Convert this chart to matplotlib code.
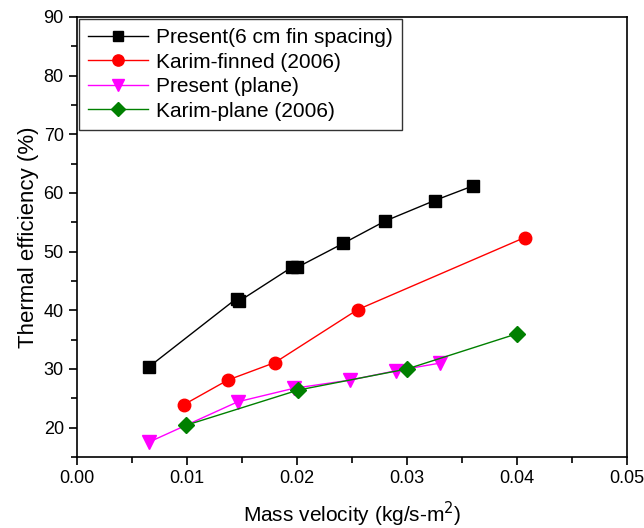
import matplotlib.pyplot as plt
from matplotlib.ticker import MultipleLocator

plt.rcParams['font.family'] = ['Liberation Sans', 'DejaVu Sans']

# Present (6 cm fin spacing)
fin_x = [0.0065, 0.0145, 0.0147, 0.0195, 0.0200, 0.0242, 0.0280, 0.0325, 0.0360]
fin_y = [30.3, 42.0, 41.5, 47.3, 47.3, 51.4, 55.2, 58.7, 61.2]

# Karim-finned (2006)
kf_x = [0.0097, 0.0137, 0.0180, 0.0255, 0.0407]
kf_y = [23.9, 28.1, 31.1, 40.1, 52.4]

# Present (plane)
pl_x = [0.0065, 0.0146, 0.0197, 0.0248, 0.0290, 0.0330]
pl_y = [17.5, 24.4, 26.7, 28.1, 29.7, 31.0]

# Karim-plane (2006)
kp_x = [0.0099, 0.0201, 0.0300, 0.0400]
kp_y = [20.4, 26.4, 30.0, 36.0]

fig = plt.figure(figsize=(6.44, 5.28), dpi=100)
ax = fig.add_axes([0.1196, 0.1345, 0.854, 0.8335])

ax.plot(fin_x, fin_y, color='black', marker='s', ms=8, lw=1,
        label='Present(6 cm fin spacing)')
ax.plot(kf_x, kf_y, color='red', marker='o', ms=9, lw=1,
        label='Karim-finned (2006)')
ax.plot(pl_x, pl_y, color='magenta', marker='v', ms=10, lw=1,
        label='Present (plane)')
ax.plot(kp_x, kp_y, color='green', marker='D', ms=8, lw=1,
        label='Karim-plane (2006)')

ax.set_xlim(0, 0.05)
ax.set_ylim(15, 90)
ax.xaxis.set_major_locator(MultipleLocator(0.01))
ax.xaxis.set_minor_locator(MultipleLocator(0.005))
ax.yaxis.set_major_locator(MultipleLocator(10))
ax.yaxis.set_minor_locator(MultipleLocator(5))
ax.xaxis.set_major_formatter(plt.FormatStrFormatter('%.2f'))
ax.tick_params(which='major', direction='out', length=6, width=1.2, labelsize=13)
ax.tick_params(which='minor', direction='out', length=4, width=1.2)
for s in ax.spines.values():
    s.set_linewidth(1.2)

ax.set_xlabel('Mass velocity (kg/s-m$^2$)', fontsize=15, labelpad=9)
ax.set_ylabel('Thermal efficiency (%)', fontsize=16, labelpad=3)

leg = ax.legend(loc='upper left', fontsize=15, frameon=True, fancybox=False,
                edgecolor='black', borderaxespad=0.1, handlelength=2.85,
                handletextpad=0.4, labelspacing=0.26, borderpad=0.45,
                markerscale=0.9)
leg.get_frame().set_linewidth(1.0)

fig.savefig('out.png', dpi=100)
